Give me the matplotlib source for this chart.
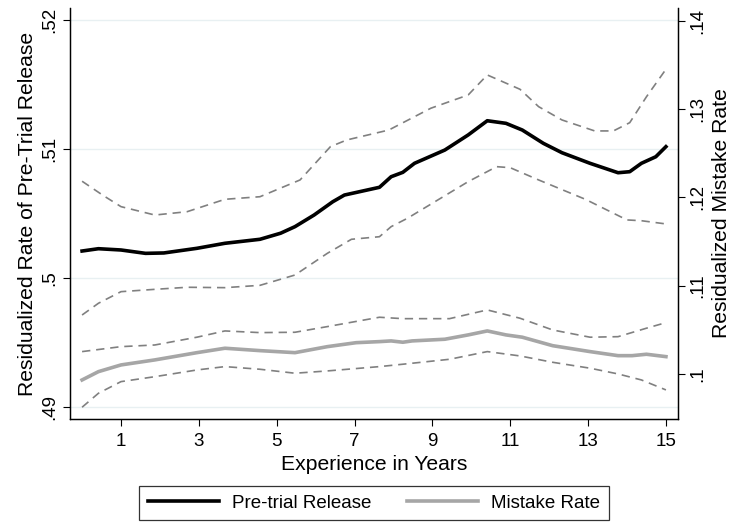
import matplotlib.pyplot as plt

plt.rcParams["font.family"] = ["Liberation Sans", "DejaVu Sans"]

# Pre-trial release (left axis)
rel_x = [0.0, 0.42, 1.0, 1.63, 2.1, 2.95, 3.67, 4.57, 5.1, 5.47, 5.96, 6.44, 6.74, 7.64,
         7.94, 8.24, 8.54, 9.32, 9.92, 10.41, 10.89, 11.31, 11.85, 12.33, 13.05, 13.77,
         14.07, 14.37, 14.74, 15.0]
rel_y = [0.50209, 0.50227, 0.50217, 0.50191, 0.50194, 0.50230, 0.50269, 0.50300, 0.50347,
         0.50398, 0.50488, 0.50591, 0.50643, 0.50703, 0.50785, 0.50819, 0.50889, 0.50992,
         0.51109, 0.51219, 0.51199, 0.51147, 0.51044, 0.50971, 0.50889, 0.50816, 0.50824,
         0.50889, 0.50940, 0.51018]

rel_hi_x = [0.0, 0.54, 1.0, 1.87, 2.7, 3.67, 4.57, 5.6, 6.38, 6.8, 7.88, 8.96, 9.92, 10.41,
            11.25, 11.73, 12.33, 13.17, 13.65, 14.07, 14.5, 15.0]
rel_hi_y = [0.50750, 0.50640, 0.50553, 0.50488, 0.50514, 0.50610, 0.50630, 0.50760, 0.51018,
            0.51070, 0.51147, 0.51316, 0.51419, 0.51574, 0.51463, 0.51328, 0.51225, 0.51140,
            0.51140, 0.51204, 0.51405, 0.51618]

rel_lo_x = [0.0, 0.42, 1.0, 1.87, 2.7, 3.67, 4.57, 5.47, 6.3, 6.92, 7.64, 7.94, 8.36, 9.14,
            9.92, 10.65, 11.0, 11.73, 12.93, 14.0, 14.37, 15.0]
rel_lo_y = [0.49713, 0.49804, 0.49894, 0.49912, 0.49928, 0.49925, 0.49943, 0.50023, 0.50191,
            0.50300, 0.50320, 0.50398, 0.50463, 0.50605, 0.50747, 0.50863, 0.50855, 0.50760,
            0.50610, 0.50450, 0.50444, 0.50419]

# Mistake rate (right axis)
mis_x = [0.0, 0.42, 1.0, 1.87, 2.95, 3.67, 4.57, 5.47, 6.3, 7.04, 7.64, 7.94, 8.24, 8.48,
         9.32, 9.92, 10.41, 10.89, 11.31, 12.09, 13.05, 13.77, 14.13, 14.5, 15.0]
mis_y = [0.09932, 0.10026, 0.10102, 0.10159, 0.10241, 0.10291, 0.10264, 0.10241, 0.10309,
         0.10354, 0.10366, 0.10374, 0.10359, 0.10374, 0.10393, 0.10442, 0.10487, 0.10442,
         0.10416, 0.10320, 0.10253, 0.10207, 0.10207, 0.10223, 0.10196]

mis_hi_x = [0.0, 1.0, 1.87, 2.95, 3.67, 4.57, 5.47, 6.3, 7.64, 8.24, 9.44, 10.41, 11.25,
            12.09, 13.05, 13.77, 14.5, 15.0]
mis_hi_y = [0.10253, 0.10309, 0.10328, 0.10416, 0.10487, 0.10468, 0.10472, 0.10536, 0.10642,
            0.10626, 0.10626, 0.10725, 0.10631, 0.10498, 0.10416, 0.10422, 0.10518, 0.10581]

mis_lo_x = [0.0, 0.42, 1.0, 1.87, 2.95, 3.67, 4.57, 5.47, 6.3, 7.64, 8.24, 9.44, 10.41,
            11.25, 12.09, 13.05, 13.77, 14.37, 15.0]
mis_lo_y = [0.09623, 0.09781, 0.09913, 0.09969, 0.10045, 0.10083, 0.10053, 0.10008, 0.10034,
            0.10083, 0.10110, 0.10166, 0.10253, 0.10204, 0.10132, 0.10065, 0.10000, 0.09932,
            0.09819]

x_ticks = [1, 3, 5, 7, 9, 11, 13, 15]
left_ticks = [0.49, 0.50, 0.51, 0.52]
left_labels = [".49", ".5", ".51", ".52"]
right_ticks = [0.10, 0.11, 0.12, 0.13, 0.14]
right_labels = [".1", ".11", ".12", ".13", ".14"]

FS_TICK = 13.5
FS_TITLE = 15.2
dash = (0, (5, 3.5))

fig = plt.figure(figsize=(7.34, 5.23), dpi=100)
ax = fig.add_axes([0.0947, 0.1989, 0.829, 0.7858])
ax2 = ax.twinx()

ax.plot(rel_hi_x, rel_hi_y, color="#808080", lw=1.2, linestyle=dash)
ax.plot(rel_lo_x, rel_lo_y, color="#808080", lw=1.2, linestyle=dash)
l1, = ax.plot(rel_x, rel_y, color="black", lw=2.6, label="Pre-trial Release")

ax2.plot(mis_hi_x, mis_hi_y, color="#808080", lw=1.2, linestyle=dash)
ax2.plot(mis_lo_x, mis_lo_y, color="#808080", lw=1.2, linestyle=dash)
l2, = ax2.plot(mis_x, mis_y, color="#a6a6a6", lw=2.6, label="Mistake Rate")

ax.set_xlim(-0.323, 15.31)
ax.set_ylim(0.48907, 0.52093)
ax2.set_ylim(0.0949, 0.14144)

for t in left_ticks:
    ax.axhline(t, color="#e8f0f2", lw=1, zorder=0)

ax.set_xticks(x_ticks)
ax.set_xticklabels([str(v) for v in x_ticks], fontsize=FS_TICK)
ax.set_yticks(left_ticks)
ax.set_yticklabels(left_labels, fontsize=FS_TICK, rotation=90, va="center")
ax2.set_yticks(right_ticks)
ax2.set_yticklabels(right_labels, fontsize=FS_TICK, rotation=90, va="center")

for a in (ax, ax2):
    a.tick_params(direction="out", length=5, width=0.8, color="black", pad=3)
    a.spines["top"].set_visible(False)
    for s in ("left", "right", "bottom"):
        a.spines[s].set_linewidth(0.9)
ax.tick_params(axis="x", pad=5)

ax.set_xlabel("Experience in Years", fontsize=FS_TITLE, labelpad=3.5)
ax.set_ylabel("Residualized Rate of Pre-Trial Release", fontsize=FS_TITLE, labelpad=3)
ax2.set_ylabel("Residualized Mistake Rate", fontsize=FS_TITLE, labelpad=4)

leg = fig.legend(handles=[l1, l2], loc="center", bbox_to_anchor=(0.5095, 0.038), ncol=2,
                 fontsize=FS_TICK, frameon=True, fancybox=False, edgecolor="black",
                 handlelength=3.8, columnspacing=1.9, borderpad=0.45, handletextpad=0.7)
leg.get_frame().set_linewidth(0.9)

fig.savefig("out.png", dpi=100)
